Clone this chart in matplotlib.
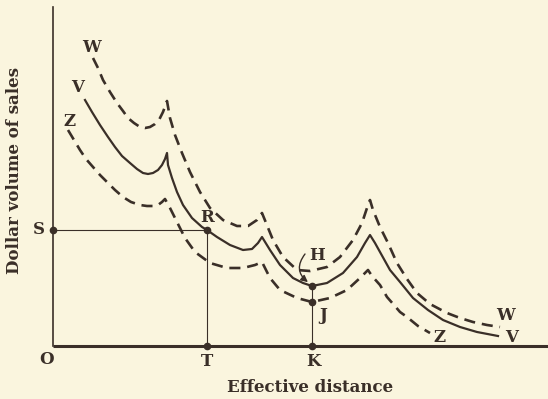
import matplotlib.pyplot as plt
from matplotlib.patches import FancyArrowPatch

BG = "#FAF5DE"
INK = "#3A2F28"

# curve points (distance, sales)
w_x = [40, 45, 50, 57, 64, 70, 75, 81, 87, 92, 97, 102, 106, 110, 114,
       117, 122, 129, 137, 147, 157, 170, 184, 195, 204, 209,
       220, 230, 244, 257, 274, 287, 300, 309, 315, 317,
       320, 327, 335, 344, 354, 364, 377, 394, 407, 420, 434, 447]
w_y = [288, 278, 266, 254, 243, 235, 228, 223, 219, 218, 219, 222, 226, 234, 245,
       228, 211, 193, 174, 154, 138, 126, 120, 120, 126, 133,
       106, 89, 76, 75, 79, 89, 106, 123, 141, 146,
       136, 119, 103, 83, 67, 53, 42, 33, 28, 24, 21, 19]

v_x = [32, 39, 47, 55, 62, 69, 77, 84, 90, 95, 100, 105, 109, 112, 114,
       115, 119, 124, 130, 139, 149, 154, 164, 177, 190, 199, 205, 209,
       217, 227, 240, 250, 259, 274, 290, 304, 312, 317,
       322, 327, 337, 347, 360, 375, 390, 407, 424, 445]
v_y = [246, 234, 221, 209, 199, 190, 183, 177, 173, 172, 173, 176, 181, 187, 193,
       181, 168, 154, 141, 128, 119, 116, 109, 101, 96, 97, 103, 109,
       96, 81, 68, 63, 60, 63, 73, 89, 103, 111,
       103, 94, 76, 64, 48, 36, 26, 19, 14, 10]

z_x = [15, 21, 27, 33, 40, 47, 55, 62, 70, 78, 87, 94, 100, 105, 109, 112,
       117, 124, 132, 142, 157, 174, 190, 202, 209,
       217, 227, 244, 259, 277, 294, 307, 315,
       319, 327, 334, 341, 347, 354, 365, 377]
z_y = [216, 206, 196, 187, 179, 171, 163, 156, 149, 144, 141, 140, 140, 141, 144, 147,
       138, 124, 108, 94, 83, 78, 78, 81, 84,
       68, 56, 48, 44, 48, 56, 68, 76,
       70, 61, 49, 41, 34, 29, 20, 13]

# marked points
r_pt = (154, 116)
h_pt = (259, 60)
j_pt = (259, 44)
x_max = 495
y_max = 339

plt.rcParams["font.family"] = "DejaVu Serif"
plt.rcParams["font.weight"] = "bold"

fig = plt.figure(figsize=(5.48, 3.99), dpi=100, facecolor=BG)
ax = fig.add_axes([0, 0, 1, 1])
ax.set_facecolor(BG)
ax.set_xlim(-53, 495)
ax.set_ylim(-53, 346)
ax.axis("off")

# axes
ax.plot([0, 0], [0, y_max], color=INK, lw=1.2)
ax.plot([0, x_max], [0, 0], color=INK, lw=2.2, solid_capstyle="butt")

# curves
dash = dict(color=INK, lw=1.9, dashes=(4.2, 2.6))
ax.plot(w_x, w_y, **dash)
ax.plot(z_x, z_y, **dash)
ax.plot(v_x, v_y, color=INK, lw=1.6)

# guide lines
ax.plot([0, r_pt[0]], [r_pt[1], r_pt[1]], color=INK, lw=0.8)
ax.plot([r_pt[0], r_pt[0]], [0, r_pt[1]], color=INK, lw=0.8)
ax.plot([h_pt[0], h_pt[0]], [0, h_pt[1]], color=INK, lw=0.8)

dots_x = [0, r_pt[0], r_pt[0], h_pt[0], j_pt[0], h_pt[0]]
dots_y = [r_pt[1], r_pt[1], 0, h_pt[1], j_pt[1], 0]
ax.plot(dots_x, dots_y, "o", color=INK, ms=4.5, zorder=5)

# curved pointer from the H label down to the point
arrow = FancyArrowPatch((252, 92), (256, 63), connectionstyle="arc3,rad=0.5",
                        arrowstyle="-|>", mutation_scale=10, color=INK, lw=1.0,
                        shrinkA=0, shrinkB=1)
ax.add_patch(arrow)

fs = 12
lab = dict(fontsize=fs, color=INK, ha="center", va="center", fontweight="bold")
ax.text(39, 299, "W", **lab)
ax.text(25, 258, "V", **lab)
ax.text(17, 224, "Z", **lab)
ax.text(452, 31, "W", **lab)
ax.text(459, 8, "V", **lab)
ax.text(387, 8, "Z", **lab)
ax.text(-14, 117, "S", **lab)
ax.text(154, 129, "R", **lab)
ax.text(154, -16, "T", **lab)
ax.text(260, -16, "K", **lab)
ax.text(-6, -14, "O", **lab)
ax.text(264, 90, "H", **lab)
ax.text(270, 31, "J", **lab)

ax.text(257, -42, "Effective distance", **lab)
ax.text(-38, 176, "Dollar volume of sales", rotation=90, **lab)

fig.savefig("out.png", dpi=100, facecolor=BG)
